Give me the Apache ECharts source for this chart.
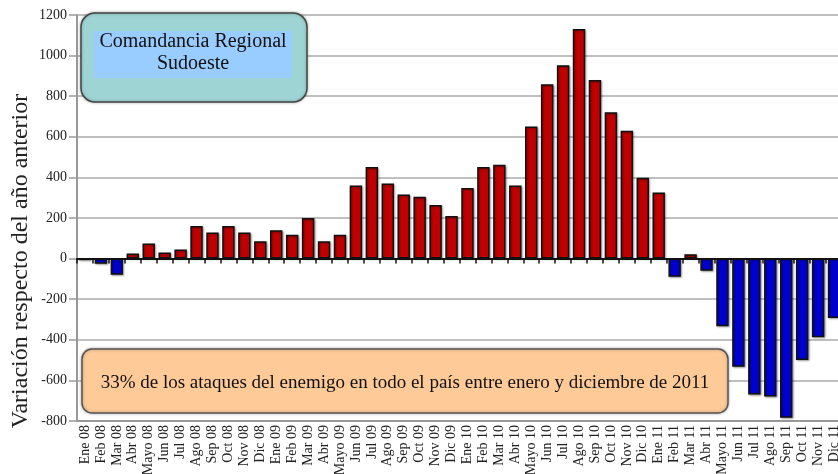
<!DOCTYPE html>
<html>
<head>
<meta charset="utf-8">
<script src="https://cdn.jsdelivr.net/npm/echarts@6/dist/echarts.min.js"></script>
<style>
  html, body { margin: 0; padding: 0; background: #fff; }
  #chart { width: 838px; height: 474px; }
</style>
</head>
<body>
<div id="chart"></div>
<script>
const categories = [
  'Ene 08', 'Feb 08', 'Mar 08', 'Abr 08', 'Mayo 08', 'Jun 08', 'Jul 08', 'Ago 08', 'Sep 08', 'Oct 08', 'Nov 08', 'Dic 08',
  'Ene 09', 'Feb 09', 'Mar 09', 'Abr 09', 'Mayo 09', 'Jun 09', 'Jul 09', 'Ago 09', 'Sep 09', 'Oct 09', 'Nov 09', 'Dic 09',
  'Ene 10', 'Feb 10', 'Mar 10', 'Abr 10', 'Mayo 10', 'Jun 10', 'Jul 10', 'Ago 10', 'Sep 10', 'Oct 10', 'Nov 10', 'Dic 10',
  'Ene 11', 'Feb 11', 'Mar 11', 'Abr 11', 'Mayo 11', 'Jun 11', 'Jul 11', 'Ago 11', 'Sep 11', 'Oct 11', 'Nov 11', 'Dic 11',
];

// variación respecto del año anterior
const variation = [
  -8, -25, -80, 25, 75, 30, 45, 160, 128, 160, 128, 85,
  140, 117, 200, 85, 117, 360, 451, 370, 316, 305, 264, 210,
  348, 451, 462, 360, 651, 859, 953, 1131, 880, 721, 630, 398,
  326, -90, 22, -60, -333, -533, -669, -679, -784, -500, -387, -292,
];

const yTicks = { min: -800, max: 1200, interval: 200 };

const titleLines = ['Comandancia Regional', 'Sudoeste'];
const noteText = '33% de los ataques del enemigo en todo el país entre enero y diciembre de 2011';
const yName = 'Variación respecto del año anterior';

const serif = '"Liberation Serif", "DejaVu Serif", serif';

const chart = echarts.init(document.getElementById('chart'));

chart.setOption({
  animation: false,
  backgroundColor: '#fff',
  grid: {
    left: 77,
    top: 15,
    width: 765,
    bottom: 53,
    containLabel: false,
    outerBoundsMode: 'none',
  },
  xAxis: [
    {
      type: 'category',
      data: categories,
      position: 'bottom',
      axisLine: { onZero: true, lineStyle: { color: '#111', width: 2 } },
      axisTick: { show: true, interval: 0, length: 5, lineStyle: { color: '#111', width: 1.5 } },
      axisLabel: { show: false, interval: 0 },
      splitLine: { show: false },
      z: 5,
    },
    {
      type: 'category',
      data: categories,
      position: 'bottom',
      axisLine: { onZero: false, lineStyle: { color: '#999', width: 2 } },
      axisTick: { show: false },
      axisLabel: {
        rotate: 90,
        interval: 0,
        margin: 4,
        fontFamily: serif,
        fontSize: 14,
        color: '#222',
      },
    },
  ],
  yAxis: {
    type: 'value',
    min: yTicks.min,
    max: yTicks.max,
    interval: yTicks.interval,
    axisLine: { show: true, lineStyle: { color: '#999', width: 2 } },
    axisTick: { show: true, length: 8, lineStyle: { color: '#999', width: 1.5 } },
    axisLabel: {
      margin: 10,
      fontFamily: serif,
      fontSize: 14,
      color: '#222',
      formatter: (v) => String(v),
    },
    splitLine: { lineStyle: { color: '#aaa', width: 1.5 } },
  },
  series: [
    {
      type: 'bar',
      data: variation,
      barWidth: '78%',
      itemStyle: {
        color: (p) => (p.value >= 0 ? '#c00000' : '#0000cc'),
        borderColor: '#111',
        borderWidth: 1.5,
        shadowColor: 'rgba(0,0,0,0.35)',
        shadowBlur: 2,
        shadowOffsetX: 1,
        shadowOffsetY: 1,
      },
      z: 3,
    },
  ],
  graphic: [
    {
      type: 'rect',
      z: 100,
      shape: { x: 81, y: 13, width: 226, height: 89, r: 14 },
      style: { fill: '#9fd4d4', stroke: '#444', lineWidth: 1.5, shadowColor: 'rgba(0,0,0,0.3)', shadowBlur: 3 },
    },
    {
      type: 'rect',
      z: 101,
      shape: { x: 94, y: 31, width: 198, height: 47 },
      style: { fill: '#99ccff' },
    },
    {
      type: 'text',
      z: 102,
      x: 193,
      y: 53,
      style: {
        text: titleLines.join('\n'),
        font: '20px ' + serif,
        lineHeight: 22,
        fill: '#111',
        align: 'center',
        verticalAlign: 'middle',
      },
    },
    {
      type: 'rect',
      z: 100,
      shape: { x: 82, y: 349, width: 646, height: 64, r: 10 },
      style: { fill: '#fdca98', stroke: '#555', lineWidth: 1.5, shadowColor: 'rgba(0,0,0,0.3)', shadowBlur: 3 },
    },
    {
      type: 'text',
      z: 102,
      x: 405,
      y: 383,
      style: {
        text: noteText,
        font: '19px ' + serif,
        fill: '#111',
        align: 'center',
        verticalAlign: 'middle',
      },
    },
    {
      type: 'text',
      z: 102,
      x: 21,
      y: 261,
      rotation: Math.PI / 2,
      style: {
        text: yName,
        font: '24px ' + serif,
        fill: '#222',
        align: 'center',
        verticalAlign: 'middle',
      },
    },
  ],
});
</script>
</body>
</html>
